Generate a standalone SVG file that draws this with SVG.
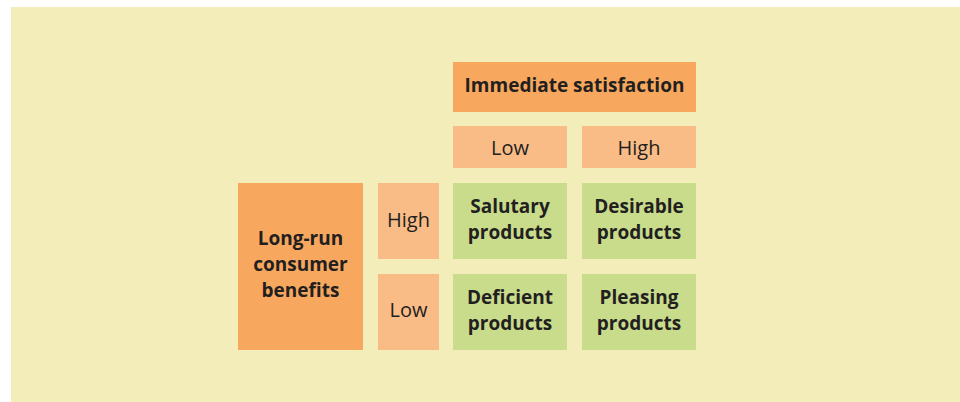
<svg xmlns="http://www.w3.org/2000/svg" width="960" height="402" viewBox="0 0 960 402">
  <style>
    .bg { fill: #f3edb9; }
    .head { fill: #f7a85e; }
    .level { fill: #f9bc86; }
    .cell { fill: #c8dc8c; }
    text { font-family: "Open Sans", "Liberation Sans", sans-serif; fill: #231f20; text-anchor: middle; font-size: 20px; }
    .b { font-weight: bold; font-size: 19px; }
  </style>
  <rect class="bg" x="11" y="7" width="949" height="395"/>

  <g id="immediate-satisfaction">
    <rect class="head" x="453" y="62" width="243" height="50"/>
    <text class="b" x="574.5" y="92">Immediate satisfaction</text>
  </g>
  <g id="satisfaction-low">
    <rect class="level" x="453" y="126" width="114" height="42"/>
    <text x="510" y="155">Low</text>
  </g>
  <g id="satisfaction-high">
    <rect class="level" x="582" y="126" width="114" height="42"/>
    <text x="639" y="155">High</text>
  </g>

  <g id="long-run-benefits">
    <rect class="head" x="238" y="183" width="125" height="167"/>
    <text class="b" x="300.5" y="245">Long-run</text>
    <text class="b" x="300.5" y="271">consumer</text>
    <text class="b" x="300.5" y="297">benefits</text>
  </g>
  <g id="benefits-high">
    <rect class="level" x="378" y="183" width="61" height="76"/>
    <text x="408.5" y="227">High</text>
  </g>
  <g id="benefits-low">
    <rect class="level" x="378" y="274" width="61" height="76"/>
    <text x="408.5" y="317">Low</text>
  </g>

  <g id="salutary">
    <rect class="cell" x="453" y="183" width="114" height="76"/>
    <text class="b" x="510" y="213">Salutary</text>
    <text class="b" x="510" y="239">products</text>
  </g>
  <g id="desirable">
    <rect class="cell" x="582" y="183" width="114" height="76"/>
    <text class="b" x="639" y="213">Desirable</text>
    <text class="b" x="639" y="239">products</text>
  </g>
  <g id="deficient">
    <rect class="cell" x="453" y="274" width="114" height="76"/>
    <text class="b" x="510" y="304">Deficient</text>
    <text class="b" x="510" y="330">products</text>
  </g>
  <g id="pleasing">
    <rect class="cell" x="582" y="274" width="114" height="76"/>
    <text class="b" x="639" y="304">Pleasing</text>
    <text class="b" x="639" y="330">products</text>
  </g>
</svg>
